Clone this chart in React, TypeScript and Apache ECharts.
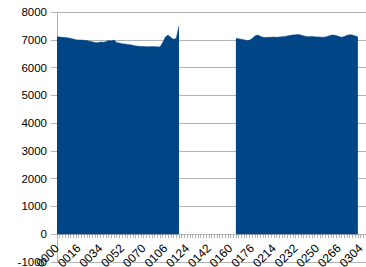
import React, { useEffect, useRef } from "react";
import * as echarts from "echarts";

const tickLabels = [
  "0000", "0016", "0034", "0052", "0070", "0106", "0124", "0142",
  "0160", "0176", "0214", "0232", "0250", "0266", "0304",
];

const categoryCount = 115;
const labelStep = 8;

const segment1Start = 0;
const segment1 = [
  7110, 7100, 7090, 7080, 7070, 7050, 7030, 7000, 6990, 6990,
  6980, 6970, 6950, 6930, 6900, 6890, 6920, 6910, 6930, 6970,
  6960, 6990, 6900, 6880, 6860, 6850, 6830, 6820, 6800, 6780,
  6770, 6760, 6760, 6750, 6750, 6760, 6750, 6750, 6740, 6900,
  7100, 7170, 7080, 7020, 7050, 7500,
];

const segment2Start = 66;
const segment2 = [
  7050, 7040, 7020, 7000, 6970, 6980, 7050, 7140, 7170, 7130,
  7090, 7080, 7090, 7090, 7100, 7090, 7100, 7110, 7120, 7140,
  7160, 7170, 7180, 7190, 7170, 7140, 7120, 7110, 7120, 7110,
  7100, 7100, 7090, 7100, 7130, 7160, 7170, 7150, 7120, 7090,
  7120, 7160, 7180, 7170, 7140, 7110,
];

const yTicks = { min: -1000, max: 8000, interval: 1000 };

export default function App() {
  const ref = useRef<HTMLDivElement>(null);
  useEffect(() => {
    if (!ref.current) return;
    const chart = echarts.init(ref.current, null, { renderer: "svg" });
    const categories: string[] = [];
    for (let i = 0; i < categoryCount; i++) {
      const li = i / labelStep;
      categories.push(i % labelStep === 0 && li < tickLabels.length ? tickLabels[li] : "c" + i);
    }
    const values: (number | null)[] = new Array(categoryCount).fill(null);
    segment1.forEach((v, k) => (values[segment1Start + k] = v));
    segment2.forEach((v, k) => (values[segment2Start + k] = v));

    const gridTop = 12;
    const gridBottom = 5;
    const plotH = 267 - gridTop - gridBottom;
    const zeroOffset = (plotH * (0 - yTicks.min)) / (yTicks.max - yTicks.min);

    chart.setOption({
      animation: false,
      grid: {
        left: 57, right: 0, top: gridTop, bottom: gridBottom,
        containLabel: false, outerBoundsMode: "none",
      },
      xAxis: {
        type: "category",
        data: categories,
        boundaryGap: false,
        position: "bottom",
        offset: -zeroOffset,
        axisLine: { onZero: false, lineStyle: { color: "#b3b3b3", width: 1 } },
        axisTick: { show: true, interval: 0, length: 4, lineStyle: { color: "#b3b3b3" } },
        axisLabel: {
          interval: labelStep - 1,
          rotate: 45,
          margin: 12,
          color: "#000",
          fontFamily: "Liberation Sans",
          fontSize: 12,
          hideOverlap: false,
          formatter: (v: string) => (v.charAt(0) === "c" ? "" : v),
        },
        splitLine: { show: false },
      },
      yAxis: {
        type: "value",
        min: yTicks.min,
        max: yTicks.max,
        interval: yTicks.interval,
        axisLine: { show: true, lineStyle: { color: "#b3b3b3" } },
        axisTick: { show: true, length: 6, lineStyle: { color: "#b3b3b3" } },
        axisLabel: {
          margin: 10,
          color: "#000",
          fontFamily: "Liberation Sans",
          fontSize: 11.5,
          formatter: (v: number) => String(v),
        },
        splitLine: { show: true, lineStyle: { color: "#b3b3b3", width: 1 } },
      },
      series: [
        {
          type: "line",
          data: values,
          showSymbol: false,
          connectNulls: false,
          lineStyle: { width: 0.5, color: "#004586" },
          itemStyle: { color: "#004586" },
          areaStyle: { color: "#004586", opacity: 1 },
        },
      ],
    });
    return () => chart.dispose();
  }, []);
  return <div ref={ref} style={{ width: 366, height: 267, position: "absolute", left: 0, top: 0 }} />;
}
